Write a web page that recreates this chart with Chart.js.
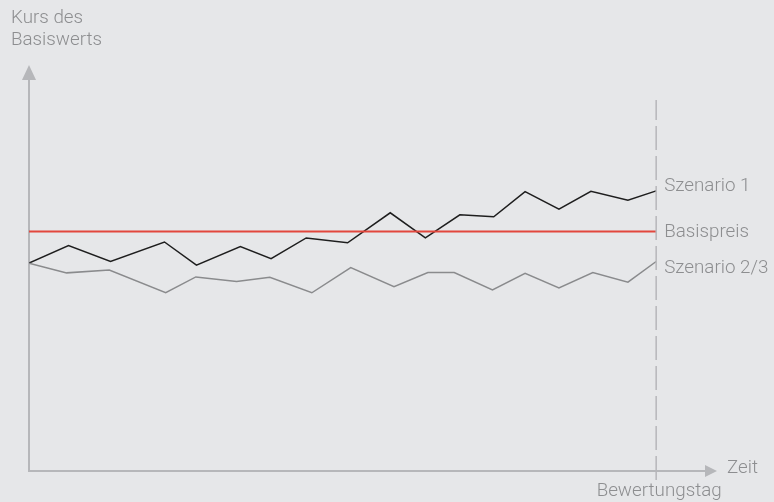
<!DOCTYPE html>
<html>
<head>
<meta charset="utf-8">
<script src="https://cdn.jsdelivr.net/npm/chart.js@4/dist/chart.umd.min.js"></script>
<style>
  html, body { margin: 0; padding: 0; background: #e6e7e9; }
  #wrap { width: 774px; height: 502px; position: relative; }
</style>
</head>
<body>
<div id="wrap"><canvas id="kursChart"></canvas></div>
<script>
// Zeit (Bewertungstag = 100) und Kurs des Basiswerts
const zeit1 = [0, 6.3, 13, 21.6, 26.7, 33.7, 38.6, 44.2, 50.8, 57.6, 63.2, 68.7, 74.1, 79.1, 84.5, 89.6, 95.5, 100];
const szenario1 = [92.2, 96.5, 92.6, 97.4, 91.7, 96.3, 93.3, 98.4, 97.2, 104.6, 98.4, 104.1, 103.6, 109.8, 105.5, 109.9, 107.7, 110.0];
const zeit23 = [0, 6.0, 12.8, 21.8, 26.6, 33.1, 38.4, 45.1, 51.3, 58.2, 63.6, 67.8, 73.9, 79.1, 84.5, 89.9, 95.5, 100];
const szenario23 = [92.2, 89.8, 90.5, 84.9, 88.8, 87.7, 88.7, 84.9, 91.1, 86.4, 89.9, 89.9, 85.6, 89.7, 86.1, 89.9, 87.5, 92.6];
const basispreis = 100;
const bewertungstag = 100;
const labels = ['Szenario 1', 'Basispreis', 'Szenario 2/3'];

const AXIS = '#b6b7ba';
const TEXT = '#8d8e90';
const FONT = '300 18.8px Roboto, "Liberation Sans", sans-serif';

const toPoints = (xs, ys) => xs.map((x, i) => ({ x: x, y: ys[i] }));

// Achsen, Pfeile und Beschriftungen
const decor = {
  id: 'decor',
  beforeDatasetsDraw(chart) {
    const ctx = chart.ctx;
    const a = chart.chartArea;
    ctx.save();
    ctx.strokeStyle = AXIS;
    ctx.fillStyle = AXIS;
    ctx.lineWidth = 2;
    ctx.beginPath();
    ctx.moveTo(a.left, a.top + 15);
    ctx.lineTo(a.left, a.bottom);
    ctx.lineTo(a.right - 11, a.bottom);
    ctx.stroke();
    // Pfeil oben
    ctx.beginPath();
    ctx.moveTo(a.left, a.top);
    ctx.lineTo(a.left - 7, a.top + 15);
    ctx.lineTo(a.left + 7, a.top + 15);
    ctx.closePath();
    ctx.fill();
    // Pfeil rechts
    ctx.beginPath();
    ctx.moveTo(a.right, a.bottom);
    ctx.lineTo(a.right - 12, a.bottom - 6);
    ctx.lineTo(a.right - 12, a.bottom + 6);
    ctx.closePath();
    ctx.fill();
    ctx.restore();
  },
  afterDatasetsDraw(chart) {
    const ctx = chart.ctx;
    const a = chart.chartArea;
    const x = chart.scales.x;
    const y = chart.scales.y;
    const xEnd = x.getPixelForValue(bewertungstag);
    ctx.save();
    ctx.font = FONT;
    ctx.fillStyle = TEXT;
    ctx.textBaseline = 'alphabetic';
    ctx.textAlign = 'left';
    ctx.fillText('Kurs des', 11, 23);
    ctx.fillText('Basiswerts', 11, 45);
    ctx.fillText('Zeit', a.right + 10, a.bottom + 2);
    ctx.textAlign = 'center';
    ctx.fillText('Bewertungstag', xEnd + 3, a.bottom + 25);
    ctx.textAlign = 'left';
    const yEnds = [szenario1[szenario1.length - 1], basispreis, szenario23[szenario23.length - 1]];
    const shift = [0, 6, 11];
    labels.forEach((t, i) => {
      ctx.fillText(t, xEnd + 8, y.getPixelForValue(yEnds[i]) + shift[i]);
    });
    ctx.restore();
  }
};

new Chart(document.getElementById('kursChart'), {
  type: 'line',
  data: {
    datasets: [
      {
        label: 'Bewertungstag',
        data: [{ x: bewertungstag, y: 38.8 }, { x: bewertungstag, y: 132.4 }],
        borderColor: AXIS,
        borderWidth: 1.5,
        borderDash: [24, 6],
        pointRadius: 0,
        clip: false
      },
      {
        label: labels[1],
        data: [{ x: 0, y: basispreis }, { x: bewertungstag, y: basispreis }],
        borderColor: '#e2473d',
        borderWidth: 2,
        pointRadius: 0
      },
      {
        label: labels[2],
        data: toPoints(zeit23, szenario23),
        borderColor: '#8a8b8d',
        borderWidth: 1.5,
        pointRadius: 0,
        tension: 0
      },
      {
        label: labels[0],
        data: toPoints(zeit1, szenario1),
        borderColor: '#1e1e1e',
        borderWidth: 1.5,
        pointRadius: 0,
        tension: 0
      }
    ]
  },
  options: {
    responsive: true,
    maintainAspectRatio: false,
    animation: false,
    layout: { padding: { left: 29, top: 65, right: 57, bottom: 31 } },
    scales: {
      x: { type: 'linear', min: 0, max: 109.7, display: false },
      y: { min: 41, max: 141, display: false }
    },
    plugins: {
      legend: { display: false },
      tooltip: { enabled: false }
    }
  },
  plugins: [decor]
});
</script>
</body>
</html>
